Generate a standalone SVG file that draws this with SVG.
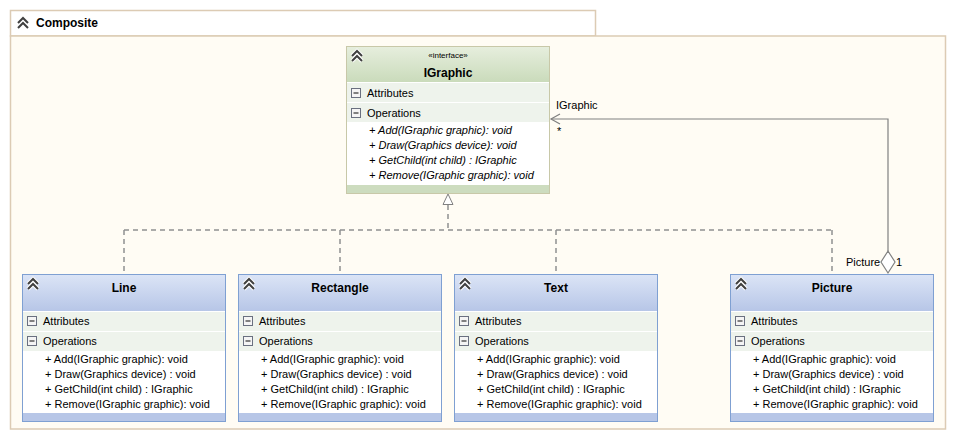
<svg xmlns="http://www.w3.org/2000/svg" width="955" height="439" viewBox="0 0 955 439">
<defs>
<linearGradient id="gBlue" x1="0" y1="0" x2="0" y2="1"><stop offset="0" stop-color="#dbe4f6"/><stop offset="1" stop-color="#b7c6e7"/></linearGradient>
<linearGradient id="gGreen" x1="0" y1="0" x2="0" y2="1"><stop offset="0" stop-color="#e6eedd"/><stop offset="1" stop-color="#cadbbb"/></linearGradient>
<g id="chev"><path d="M0,5 L5,0 L10,5 M0,10 L5,5 L10,10" fill="none" stroke="#ffffff" stroke-width="4"/><path d="M0,5 L5,0 L10,5 M0,10 L5,5 L10,10" fill="none" stroke="#404040" stroke-width="2"/></g>
<g id="minus"><rect x="0.5" y="0.5" width="9" height="9" fill="#f4f4f4" stroke="#6a7080"/><line x1="2.5" y1="5" x2="7.5" y2="5" stroke="#303030" stroke-width="1.2"/></g>
<marker id="tri" markerWidth="12" markerHeight="12" refX="1" refY="6" orient="auto" markerUnits="userSpaceOnUse"><path d="M1,6 L11,1 L11,11 Z" fill="#ffffff" stroke="#808080"/></marker>
</defs>
<style>
text{font-family:"Liberation Sans",Arial,sans-serif;fill:#000}
.t{font-size:12px;font-weight:bold}
.s{font-size:11px}
.i{font-size:11px;font-style:italic}
.st{font-size:8px}
.cls{fill:#ffffff;stroke:#7fa0d2}
.ifc{fill:#ffffff;stroke:#c8c8a8}
.row{fill:#eef3ec}
.dash{fill:none;stroke:#909090;stroke-width:1.5;stroke-dasharray:5,4}
.solid{fill:none;stroke:#808080;stroke-width:1.2}
</style>
<g id="package">
<rect x="10.5" y="10.5" width="585" height="25.5" fill="#ffffff" stroke="#dccbb4" stroke-width="1.5"/>
<rect x="10.5" y="36" width="935" height="393" fill="#fffcf4" stroke="#dccbb4" stroke-width="1.5"/>
<use href="#chev" x="18" y="18"/>
<text x="36" y="27" class="t">Composite</text>
</g>
<g id="connectors">
<path class="dash" d="M448,205 V230 M124,230 H832 M124,230 V274 M340,230 V274 M556,230 V274 M832,230 V274"/>
<path d="M448,194 L443,204.5 L453,204.5 Z" fill="#ffffff" stroke="#808080"/>
<path class="solid" d="M888,251 V119 H551"/>
<path class="solid" d="M560,114 L551,119 L560,124"/>
<path d="M888,251 L895,262 L888,273 L881,262 Z" fill="#ffffff" stroke="#808080" stroke-width="1.2"/>
<text x="556" y="109" class="s">IGraphic</text>
<text x="557" y="135" class="s">*</text>
<text x="846" y="266" class="s">Picture</text>
<text x="896" y="266" class="s">1</text>
</g>
<g id="IGraphic">
<rect x="346.5" y="46.5" width="203" height="147" class="ifc"/>
<rect x="347" y="47" width="202" height="35" fill="url(#gGreen)"/>
<rect x="347" y="83" width="202" height="19" class="row"/>
<rect x="347" y="103" width="202" height="19" class="row"/>
<rect x="347" y="185" width="202" height="8" fill="#cddcbf"/>
<use href="#chev" x="352" y="51"/>
<text x="448" y="58" class="st" text-anchor="middle">«interface»</text>
<text x="448" y="77" class="t" text-anchor="middle">IGraphic</text>
<use href="#minus" x="351" y="88"/>
<text x="367" y="97" class="s">Attributes</text>
<use href="#minus" x="351" y="108"/>
<text x="367" y="117" class="s">Operations</text>
<text x="369" y="134" class="i">+ Add(IGraphic graphic): void</text>
<text x="369" y="149" class="i">+ Draw(Graphics device): void</text>
<text x="369" y="164" class="i">+ GetChild(int child) : IGraphic</text>
<text x="369" y="179" class="i">+ Remove(IGraphic graphic): void</text>
</g>
<g id="Line">
<rect x="22.5" y="274.5" width="203" height="147" class="cls"/>
<rect x="23" y="275" width="202" height="36" fill="url(#gBlue)"/>
<rect x="23" y="312" width="202" height="19" class="row"/>
<rect x="23" y="332" width="202" height="19" class="row"/>
<rect x="23" y="413" width="202" height="8" fill="#b7c6e7"/>
<use href="#chev" x="28" y="279"/>
<text x="124" y="292" class="t" text-anchor="middle">Line</text>
<use href="#minus" x="27" y="316"/>
<text x="43" y="325" class="s">Attributes</text>
<use href="#minus" x="27" y="336"/>
<text x="43" y="345" class="s">Operations</text>
<text x="45" y="363" class="s">+ Add(IGraphic graphic): void</text>
<text x="45" y="378" class="s">+ Draw(Graphics device) : void</text>
<text x="45" y="393" class="s">+ GetChild(int child) : IGraphic</text>
<text x="45" y="408" class="s">+ Remove(IGraphic graphic): void</text>
</g>
<g id="Rectangle">
<rect x="238.5" y="274.5" width="203" height="147" class="cls"/>
<rect x="239" y="275" width="202" height="36" fill="url(#gBlue)"/>
<rect x="239" y="312" width="202" height="19" class="row"/>
<rect x="239" y="332" width="202" height="19" class="row"/>
<rect x="239" y="413" width="202" height="8" fill="#b7c6e7"/>
<use href="#chev" x="244" y="279"/>
<text x="340" y="292" class="t" text-anchor="middle">Rectangle</text>
<use href="#minus" x="243" y="316"/>
<text x="259" y="325" class="s">Attributes</text>
<use href="#minus" x="243" y="336"/>
<text x="259" y="345" class="s">Operations</text>
<text x="261" y="363" class="s">+ Add(IGraphic graphic): void</text>
<text x="261" y="378" class="s">+ Draw(Graphics device) : void</text>
<text x="261" y="393" class="s">+ GetChild(int child) : IGraphic</text>
<text x="261" y="408" class="s">+ Remove(IGraphic graphic): void</text>
</g>
<g id="Text">
<rect x="454.5" y="274.5" width="203" height="147" class="cls"/>
<rect x="455" y="275" width="202" height="36" fill="url(#gBlue)"/>
<rect x="455" y="312" width="202" height="19" class="row"/>
<rect x="455" y="332" width="202" height="19" class="row"/>
<rect x="455" y="413" width="202" height="8" fill="#b7c6e7"/>
<use href="#chev" x="460" y="279"/>
<text x="556" y="292" class="t" text-anchor="middle">Text</text>
<use href="#minus" x="459" y="316"/>
<text x="475" y="325" class="s">Attributes</text>
<use href="#minus" x="459" y="336"/>
<text x="475" y="345" class="s">Operations</text>
<text x="477" y="363" class="s">+ Add(IGraphic graphic): void</text>
<text x="477" y="378" class="s">+ Draw(Graphics device) : void</text>
<text x="477" y="393" class="s">+ GetChild(int child) : IGraphic</text>
<text x="477" y="408" class="s">+ Remove(IGraphic graphic): void</text>
</g>
<g id="Picture">
<rect x="730.5" y="274.5" width="203" height="147" class="cls"/>
<rect x="731" y="275" width="202" height="36" fill="url(#gBlue)"/>
<rect x="731" y="312" width="202" height="19" class="row"/>
<rect x="731" y="332" width="202" height="19" class="row"/>
<rect x="731" y="413" width="202" height="8" fill="#b7c6e7"/>
<use href="#chev" x="736" y="279"/>
<text x="832" y="292" class="t" text-anchor="middle">Picture</text>
<use href="#minus" x="735" y="316"/>
<text x="751" y="325" class="s">Attributes</text>
<use href="#minus" x="735" y="336"/>
<text x="751" y="345" class="s">Operations</text>
<text x="753" y="363" class="s">+ Add(IGraphic graphic): void</text>
<text x="753" y="378" class="s">+ Draw(Graphics device) : void</text>
<text x="753" y="393" class="s">+ GetChild(int child) : IGraphic</text>
<text x="753" y="408" class="s">+ Remove(IGraphic graphic): void</text>
</g>
</svg>
